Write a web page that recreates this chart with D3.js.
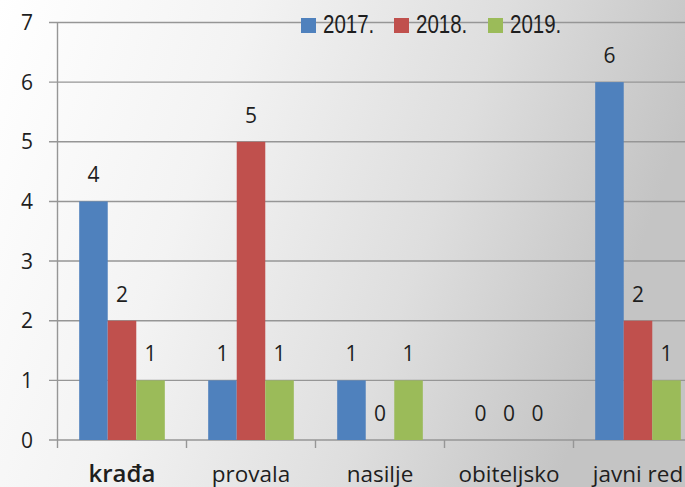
<!DOCTYPE html>
<html>
<head>
<meta charset="utf-8">
<script src="https://cdn.jsdelivr.net/npm/d3@7"></script>
<style>
  body { margin: 0; }
  svg { display: block; }
</style>
</head>
<body>
<svg width="685" height="487"></svg>
<script>
const categories = ['krađa', 'provala', 'nasilje', 'obiteljsko', 'javni red'];
const years = ['2017.', '2018.', '2019.'];
const v2017 = [4, 1, 1, 0, 6];
const v2018 = [2, 5, 0, 0, 2];
const v2019 = [1, 1, 1, 0, 1];
const yTicks = [0, 1, 2, 3, 4, 5, 6, 7];

const svg = d3.select('svg');
const width = +svg.attr('width');
const height = +svg.attr('height');

const colors = d3.scaleOrdinal()
  .domain(years)
  .range(['#4f81bd', '#c0504d', '#9bbb59']);

// background: light on the left, grey towards the right
const defs = svg.append('defs');
const grad = defs.append('linearGradient')
  .attr('id', 'bg')
  .attr('x1', 0).attr('y1', 0).attr('x2', 1).attr('y2', 0.25);
grad.append('stop').attr('offset', '0%').attr('stop-color', '#ffffff');
grad.append('stop').attr('offset', '35%').attr('stop-color', '#f3f3f3');
grad.append('stop').attr('offset', '70%').attr('stop-color', '#dedede');
grad.append('stop').attr('offset', '100%').attr('stop-color', '#c4c4c4');
svg.append('rect')
  .attr('width', width).attr('height', height)
  .attr('fill', 'url(#bg)');

const plotLeft = 57.5;
const step = 129;
const plotTop = 22.5;
const plotBottom = 440;

const y = d3.scaleLinear().domain([0, 7]).range([plotBottom, plotTop]);
const x0 = d3.scaleBand()
  .domain(categories)
  .range([plotLeft, plotLeft + step * categories.length]);
const x1 = d3.scaleBand()
  .domain(years)
  .range([0, x0.bandwidth()])
  .paddingOuter(0.76);

// gridlines
svg.append('g')
  .selectAll('line')
  .data(yTicks)
  .join('line')
    .attr('x1', 49).attr('x2', width)
    .attr('y1', d => y(d)).attr('y2', d => y(d))
    .attr('stroke', '#969696')
    .attr('stroke-width', 1.4);

// y axis line
svg.append('line')
  .attr('x1', plotLeft).attr('x2', plotLeft)
  .attr('y1', plotTop).attr('y2', plotBottom + 8)
  .attr('stroke', '#969696')
  .attr('stroke-width', 1.4);

// category ticks below the axis
svg.append('g')
  .selectAll('line')
  .data(categories.slice(1))
  .join('line')
    .attr('x1', d => x0(d)).attr('x2', d => x0(d))
    .attr('y1', plotBottom).attr('y2', plotBottom + 8)
    .attr('stroke', '#969696')
    .attr('stroke-width', 1.4);

// y tick labels
svg.append('g')
  .selectAll('text')
  .data(yTicks)
  .join('text')
    .attr('x', 33)
    .attr('y', d => y(d) + 7.5)
    .attr('text-anchor', 'end')
    .attr('font-family', 'Open Sans, sans-serif')
    .attr('font-size', 21)
    .attr('fill', '#1e1e1e')
    .text(d => d);

// x labels
svg.append('g')
  .selectAll('text')
  .data(categories)
  .join('text')
    .attr('x', d => x0(d) + x0.bandwidth() / 2)
    .attr('y', 482)
    .attr('text-anchor', 'middle')
    .attr('font-family', 'Open Sans, sans-serif')
    .attr('font-size', (d, i) => i === 0 ? 24 : 22.5)
    .attr('font-weight', (d, i) => i === 0 ? 600 : 400)
    .attr('fill', '#1e1e1e')
    .text(d => d);

const rows = categories.map((c, i) => ({
  category: c,
  values: [v2017[i], v2018[i], v2019[i]].map((v, j) => ({ year: years[j], value: v }))
}));

const groups = svg.append('g')
  .selectAll('g')
  .data(rows)
  .join('g')
    .attr('transform', d => `translate(${x0(d.category)},0)`);

groups.selectAll('rect')
  .data(d => d.values)
  .join('rect')
    .attr('x', d => x1(d.year))
    .attr('width', x1.bandwidth())
    .attr('y', d => y(d.value))
    .attr('height', d => plotBottom - y(d.value))
    .attr('fill', d => colors(d.year));

groups.selectAll('text')
  .data(d => d.values)
  .join('text')
    .attr('x', d => x1(d.year) + x1.bandwidth() / 2)
    .attr('y', d => y(d.value) - 19)
    .attr('text-anchor', 'middle')
    .attr('font-family', 'Open Sans, sans-serif')
    .attr('font-size', 21)
    .attr('fill', '#1e1e1e')
    .text(d => d.value);

// legend (condensed text)
const legendX = [301, 394, 488];
const legend = svg.append('g')
  .selectAll('g')
  .data(years)
  .join('g')
    .attr('transform', (d, i) => `translate(${legendX[i]},18)`);
legend.append('rect')
  .attr('width', 15).attr('height', 15)
  .attr('fill', d => colors(d));
legend.append('text')
  .attr('transform', 'translate(22,15) scale(0.82,1)')
  .attr('font-family', 'Liberation Sans, Arial, sans-serif')
  .attr('font-size', 25)
  .attr('fill', '#1e1e1e')
  .text(d => d);
</script>
</body>
</html>
